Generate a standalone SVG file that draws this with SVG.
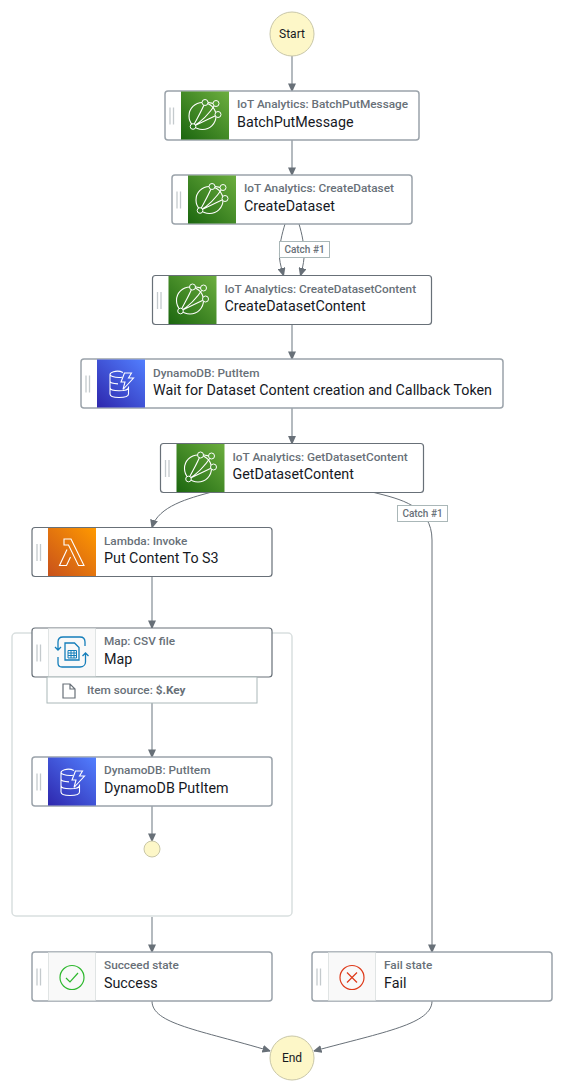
<svg xmlns="http://www.w3.org/2000/svg" width="564" height="1092" viewBox="0 0 564 1092">
<style>
text{font-family:Roboto,"Liberation Sans",sans-serif}
.box{fill:#fff;stroke:#9ba3aa;stroke-width:1.5}
.dark{stroke:#687078;stroke-width:1.2}
.grip{stroke:#c4cacd;stroke-width:1.300;fill:none}
.type{font-size:11.8px;font-weight:500;fill:#687078}
.name{font-size:14.3px;fill:#16191f}
.term{font-size:12px;fill:#16191f;text-anchor:middle}
.circ{fill:#fdf7c8;stroke:#c9c7a8;stroke-width:1}
.edge{fill:none;stroke:#687078;stroke-width:1}
.thick{fill:none;stroke:#9ba3aa;stroke-width:1.5}
.lab{fill:#fff;stroke:#aab7b8;stroke-width:1}
.labt{font-size:10px;font-weight:500;fill:#687078;text-anchor:middle}
.ic{fill:none;stroke:#fff;stroke-width:1.100}
.tile{fill:#f9f9f9;stroke:#d5dbdb;stroke-width:.7}
</style>
<defs>
<linearGradient id="g" x1="0" y1="1" x2="1" y2="0"><stop offset="0" stop-color="#1b660f"/><stop offset="1" stop-color="#6cae3e"/></linearGradient>
<linearGradient id="b" x1="0" y1="1" x2="1" y2="0"><stop offset="0" stop-color="#2e27ad"/><stop offset="1" stop-color="#527fff"/></linearGradient>
<linearGradient id="o" x1="0" y1="1" x2="1" y2="0"><stop offset="0" stop-color="#c8511b"/><stop offset="1" stop-color="#ff9900"/></linearGradient>
<marker id="arr" viewBox="0 0 8 8" refX="7.6" refY="4" markerWidth="8" markerHeight="8" markerUnits="userSpaceOnUse" orient="auto"><path d="M0 0L8 3.6V4.4L0 8Z" fill="#687078"/></marker>
<g id="iot">
<rect width="48" height="48" fill="url(#g)"/>
<circle class="ic" cx="21.500" cy="24.500" r="13.500"/>
<path class="ic" d="M12 35C16 27 21 19 24 11M12 35C21 30 29 21 35 12M12 35L37 23M26 10.500C30 11.500 32 12 33 12"/>
<circle cx="24" cy="11" r="3" fill="#4a9130" stroke="#fff"/><circle cx="35" cy="12" r="3" fill="#57a033" stroke="#fff"/><circle cx="37" cy="23" r="3" fill="#4a9130" stroke="#fff"/><circle cx="12" cy="35" r="2.800" fill="#2d7a1c" stroke="#fff"/>
</g>
<g id="ddb">
<rect width="48" height="48" fill="url(#b)"/>
<path class="ic" d="M26 13C23 11.500 19 11.500 16.500 12.200C14 13 13 14 13 15C13 16.500 17 18 22 18C23 18 24 17.900 25 17.700M13 15V34.500C13 37 17 38 22 38C27 38 31.500 37 31.500 34.500V27M13 21.500C13 23 16.500 24.200 21 24.400M13 28C13 30 17 31.300 22 31.300C27 31.300 31.500 30 31.500 28"/>
<path class="ic" d="M27.500 13.500L24 22.500H28L26 30L36.500 18.500H31.500L34.500 13.500Z"/>
</g>
<g id="grip"><path class="grip" d="M5 16.500V33.500M8.500 16.500V33.500"/></g>
</defs>

<g id="connectors">
<path class="thick" d="M292 56V91" marker-end="url(#arr)"/>
<path class="thick" d="M292 140V175" marker-end="url(#arr)"/>
<path class="edge" d="M285 224C282 234 279 245 279.500 258C280 264 282 270 283.500 275.500" marker-end="url(#arr)"/>
<path class="edge" d="M299 224C302 234 304.500 245 304 258C303.500 264 302 270 300.500 275.500" marker-end="url(#arr)"/>
<path class="thick" d="M292 324.500V359" marker-end="url(#arr)"/>
<path class="thick" d="M292 408V443.500" marker-end="url(#arr)"/>
<path class="edge" d="M210 492.500C190 498 158 506 152 527.500" marker-end="url(#arr)"/>
<path class="edge" d="M374 492.500C400 499 432 506 432 540V952" marker-end="url(#arr)"/>
<path class="thick" d="M152 576.500V628" marker-end="url(#arr)"/>
<path class="thick" d="M152 703V757" marker-end="url(#arr)"/>
<path class="thick" d="M152 806V841" marker-end="url(#arr)"/>
<path class="thick" d="M152 917V952" marker-end="url(#arr)"/>
<path class="edge" d="M152 1001C152 1024 200 1030 270 1051" marker-end="url(#arr)"/>
<path class="edge" d="M432 1001C432 1024 384 1032 314 1051" marker-end="url(#arr)"/>
</g>

<g id="map-group"><rect x="12" y="633" width="280" height="283" rx="4" fill="none" stroke="#d9dfdf" stroke-width="1.500"/></g>

<g id="start"><circle class="circ" cx="292" cy="34" r="22"/><text class="term" x="292" y="38">Start</text></g>

<g id="batch-put-message"><rect class="box" x="165" y="91" width="254" height="49" rx="3"/><use href="#grip" x="165" y="91"/><use href="#iot" x="181" y="91.500"/><text class="type" x="237" y="108">IoT Analytics: BatchPutMessage</text><text class="name" x="237" y="127">BatchPutMessage</text></g>

<g id="create-dataset"><rect class="box" x="172" y="175" width="240" height="49" rx="3"/><use href="#grip" x="172" y="175"/><use href="#iot" x="188" y="175.500"/><text class="type" x="244" y="192">IoT Analytics: CreateDataset</text><text class="name" x="244" y="211">CreateDataset</text></g>

<g id="catch-1"><rect class="lab" x="279.500" y="241.500" width="50" height="16"/><text class="labt" x="304.500" y="253">Catch #1</text></g>

<g id="create-dataset-content"><rect class="box dark" x="152.500" y="275.500" width="279" height="49" rx="3"/><use href="#grip" x="152.500" y="275.500"/><use href="#iot" x="168.500" y="276"/><text class="type" x="224.500" y="293">IoT Analytics: CreateDatasetContent</text><text class="name" x="224.500" y="311">CreateDatasetContent</text></g>

<g id="wait"><rect class="box" x="81" y="359" width="422" height="49" rx="3"/><use href="#grip" x="81" y="359"/><use href="#ddb" x="97" y="359.500"/><text class="type" x="153" y="377">DynamoDB: PutItem</text><text class="name" x="153" y="395">Wait for Dataset Content creation and Callback Token</text></g>

<g id="get-dataset-content"><rect class="box dark" x="160.500" y="443.500" width="263" height="49" rx="3"/><use href="#grip" x="160.500" y="443.500"/><use href="#iot" x="176.500" y="444"/><text class="type" x="232.500" y="461">IoT Analytics: GetDatasetContent</text><text class="name" x="232.500" y="479">GetDatasetContent</text></g>

<g id="catch-2"><rect class="lab" x="397.500" y="505.500" width="50" height="16"/><text class="labt" x="422.500" y="517">Catch #1</text></g>

<g id="put-content"><rect class="box dark" x="32" y="527.500" width="240" height="49" rx="3"/><use href="#grip" x="32" y="527.500"/>
<rect x="48" y="528" width="48" height="48" fill="url(#o)"/>
<path class="ic" d="M64 539H71L84 565.500H78.500L68.500 545H64ZM67 549.500L59.500 565.500H66.500L70.500 557"/>
<text class="type" x="104" y="545">Lambda: Invoke</text><text class="name" x="104" y="563">Put Content To S3</text></g>

<g id="map"><rect class="box dark" x="32" y="628" width="240" height="49" rx="3"/><use href="#grip" x="32" y="628"/>
<rect class="tile" x="48.500" y="628.500" width="47" height="48"/>
<g fill="none" stroke="#147eba" stroke-width="1.300"><path d="M80 637H63C60 637 58 639 58 642V650M85.500 653V662C85.500 665 83 667 80 667H62C59.500 667 58 665.500 58 663V657M55 647L58 650L61 647M82.500 656L85.500 653L88.500 656M80 637C83 637 85 639 85 642V646"/><path d="M65 643V660H79V647.500L74.500 643Z"/></g>
<path d="M68 650.500H76.500M68 653H76.500M68 655.500H76.500M68 658H76.500M68 650.500V658M71 650.500V658M74 650.500V658M76.500 650.500V658" stroke="#147eba" stroke-width="1" fill="none"/>
<text class="type" x="104" y="645">Map: CSV file</text><text class="name" x="104" y="664">Map</text></g>

<g id="item-source"><rect x="47" y="677" width="210" height="26" fill="#fff" stroke="#aab7b8" stroke-width="1"/><path d="M63 684H70L75 689V698H63ZM70 684V689H75" fill="none" stroke="#687078" stroke-width="1.200"/><text class="type" x="87" y="694">Item source: <tspan font-weight="700">$.Key</tspan></text></g>

<g id="dynamodb-putitem"><rect class="box" x="32" y="757" width="240" height="49" rx="3"/><use href="#grip" x="32" y="757"/><use href="#ddb" x="48" y="757.500"/><text class="type" x="104" y="774">DynamoDB: PutItem</text><text class="name" x="104" y="793">DynamoDB PutItem</text></g>

<g id="map-end"><circle class="circ" cx="152" cy="849" r="8"/></g>

<g id="success"><rect class="box" x="32" y="952" width="240" height="49" rx="3"/><use href="#grip" x="32" y="952"/><rect class="tile" x="48.500" y="952.500" width="47" height="48"/><circle cx="72" cy="977.500" r="12" fill="none" stroke="#2eb82e" stroke-width="1.200"/><path d="M66 978L70 982L78 973" fill="none" stroke="#2eb82e" stroke-width="1.200"/><text class="type" x="104" y="969">Succeed state</text><text class="name" x="104" y="988">Success</text></g>

<g id="fail"><rect class="box" x="312" y="952" width="240" height="49" rx="3"/><use href="#grip" x="312" y="952"/><rect class="tile" x="328.500" y="952.500" width="47" height="48"/><circle cx="352" cy="977.500" r="12" fill="none" stroke="#de3a1a" stroke-width="1.200"/><path d="M347 972.500L357 982.500M357 972.500L347 982.500" fill="none" stroke="#de3a1a" stroke-width="1.200"/><text class="type" x="384" y="969">Fail state</text><text class="name" x="384" y="988">Fail</text></g>

<g id="end"><circle class="circ" cx="292" cy="1058" r="22"/><text class="term" x="292" y="1062">End</text></g>
</svg>
